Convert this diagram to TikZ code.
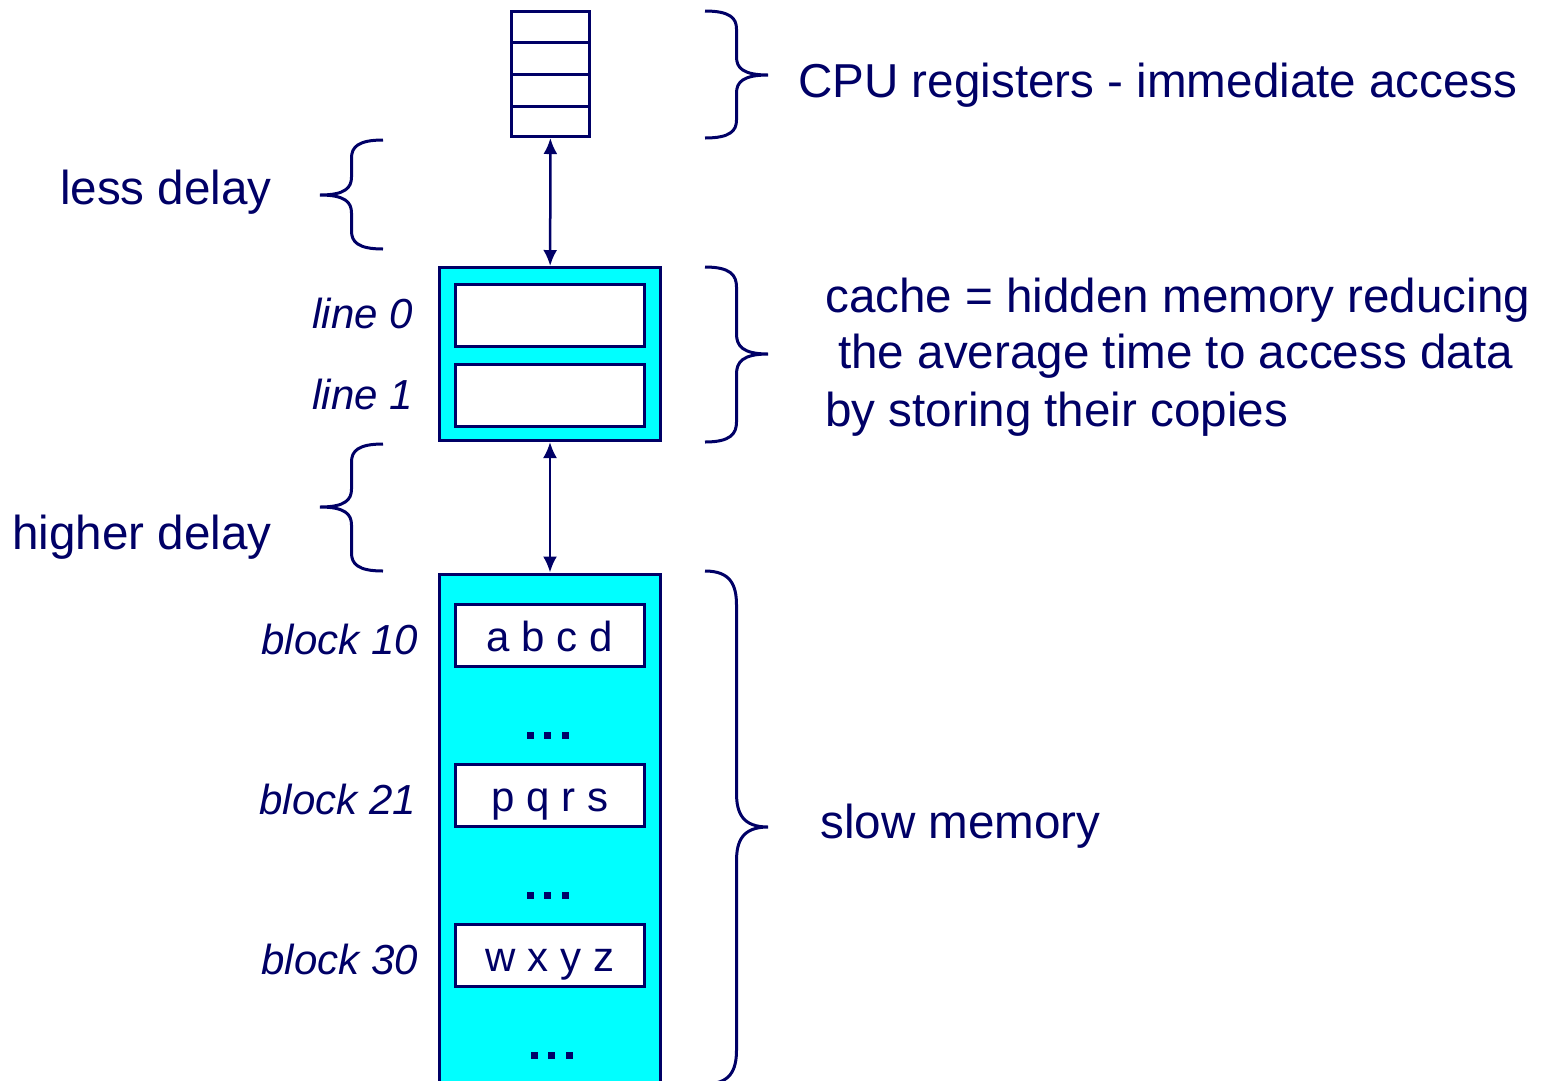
\documentclass[tikz,border=0pt]{standalone}
\usepackage{fontspec}
\setmainfont{Liberation Sans}
\usetikzlibrary{arrows.meta,positioning}
\definecolor{navy}{RGB}{0,0,102}
\definecolor{cachecyan}{RGB}{0,255,255}
\tikzset{font=\fontsize{47.6}{57}\selectfont}
\tikzset{every node/.append style={text=navy}}
\tikzset{
  box/.style={draw=navy, line width=3pt, inner sep=0pt},
  slot/.style={box, fill=white, minimum width=189pt, minimum height=62pt,
               text height=40pt, text depth=8pt, font=\fontsize{42}{50}\selectfont},
  lbl/.style={font=\fontsize{42}{50}\selectfont\itshape, inner sep=0pt},
  word/.style={inner sep=0pt},
  bracket/.style={draw=navy, line width=3pt},
  link/.style={navy, line width=2.5pt, <->, >={Latex[length=16pt,width=14pt]}},
}
% curly brace: x of ends, signed width, top, tip, bottom, bend
\newcommand{\curly}[6]{%
  \draw[bracket] (#1,#3) .. controls +({0.4*#2},0) and +(0,{-0.6*#6}) .. ({#1+0.5*#2},{#3+#6})
    -- ({#1+0.5*#2},{#4-#6}) .. controls +(0,{0.6*#6}) and +({-0.4*#2},0) .. ({#1+#2},#4)
    .. controls +({-0.4*#2},0) and +(0,{-0.6*#6}) .. ({#1+0.5*#2},{#4+#6})
    -- ({#1+0.5*#2},{#5-#6}) .. controls +(0,{0.6*#6}) and +({0.4*#2},0) .. (#1,#5);}

\begin{document}
\begin{tikzpicture}[x=1pt,y=-1pt]
  \useasboundingbox (0,0) rectangle (1552,1080);

  % registers
  \node[box, minimum width=78pt, minimum height=125pt] (reg) at (550.5,74) {};
  \foreach \y in {42,74,106}{
    \draw[navy, line width=3pt] (510,\y) -- (591,\y);
  };

  % cache
  \node[box, fill=cachecyan, minimum width=221pt, minimum height=173pt] (cache) at (550,354) {};
  \node[slot] (line0) at (550,315) {};
  \node[slot] (line1) at (550,395) {};
  \node[lbl, base left=41pt of line0, yshift=3pt] (l0) {line 0};
  \node[lbl, base left=41pt of line1, yshift=2pt] (l1) {line 1};

  % memory
  \node[box, fill=cachecyan, minimum width=221pt, minimum height=530pt, anchor=north] (mem) at (550,572.5) {};
  \node[slot] (b10) at (550,635) {a b c d};
  \node[slot] (b21) at (550,795) {p q r s};
  \node[slot] (b30) at (550,955) {w x y z};
  \node[lbl, base left=36pt of b10, yshift=-3pt] (k10) {block 10};
  \node[lbl, base left=38pt of b21, yshift=-3pt] (k21) {block 21};
  \node[lbl, base left=36pt of b30, yshift=-3pt] (k30) {block 30};
  \foreach \y/\s in {735/0,895/0,1055/4}{
    \foreach \x in {530,547.5,565}{
      \fill[navy] (\x+\s-3.5,\y-3.5) rectangle ++(7,7);
    };
  };

  \draw[link] (reg) -- (cache);
  \draw[link] (cache) -- (mem);

  % braces
  \curly{705}{63}{11}{75}{138}{18}
  \curly{705}{63}{267}{354}{442}{20}
  \curly{705}{63}{571}{827}{1084}{34}
  \curly{383}{(-63)}{140}{195}{249}{18}
  \curly{383}{(-63)}{444}{507}{571}{18}

  \node[word, anchor=base west] (cpu) at (798,97) {CPU registers - immediate access};
  \node[word, anchor=base east] (less) at (272,204) {less delay};
  \node[word, anchor=base east] (higher) at (272,549) {higher delay};
  \node[word, anchor=base west] (c1) at (825,312) {cache = hidden memory reducing};
  \node[word, anchor=base west] (c2) at (838,368) {the average time to access data};
  \node[word, anchor=base west] (c3) at (825,426) {by storing their copies};
  \node[word, anchor=base west] (slow) at (820,838) {slow memory};
\end{tikzpicture}
\end{document}
